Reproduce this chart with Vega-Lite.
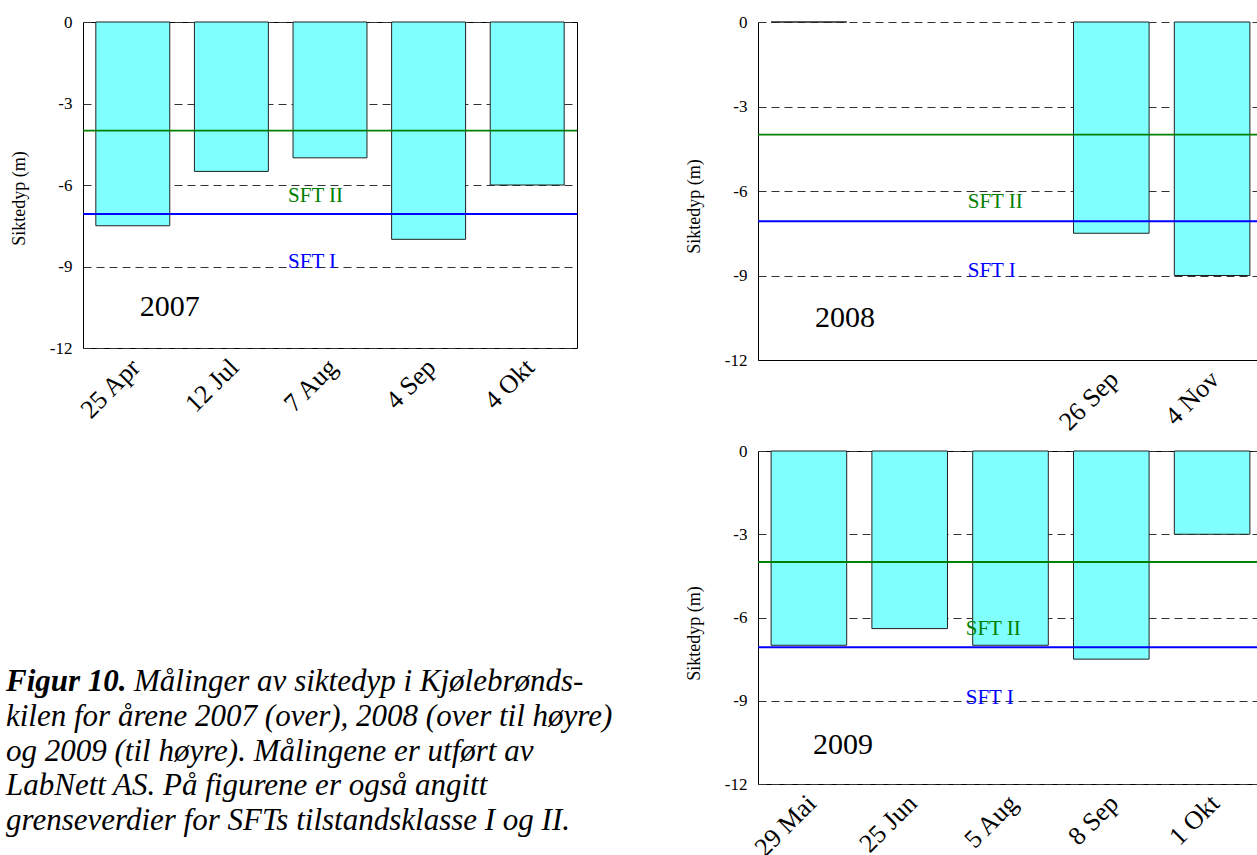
{
  "$schema": "https://vega.github.io/schema/vega-lite/v6.json",
  "background": "white",
  "padding": {"left": 6, "top": 12, "right": 0, "bottom": 0},
  "config": {
    "font": "Liberation Serif",
    "view": {"stroke": "#000", "strokeWidth": 1},
    "axis": {"domain": false, "ticks": false, "tickSize": 0, "labelFont": "Liberation Serif", "titleFont": "Liberation Serif", "labelColor": "#000", "titleColor": "#000", "titleFontWeight": "normal", "labelOverlap": false, "labelFlush": false},
    "axisY": {"grid": true, "gridColor": "#333", "gridDash": [8, 5], "gridWidth": 1, "labelFontSize": 17, "titleFontSize": 18, "labelPadding": 11, "minExtent": 34, "maxExtent": 34, "titlePadding": 21, "labelExpr": "toString(datum.value)"},
    "axisX": {"grid": false, "labelFontSize": 26, "labelAngle": -45, "labelAlign": "right", "labelBaseline": "middle", "labelPadding": 15, "labelOffset": 3}
  },
  "datasets": {
    "maalinger": [
      {"aar": 2007, "dato": "25 Apr", "siktedyp": -7.5},
      {"aar": 2007, "dato": "12 Jul", "siktedyp": -5.5},
      {"aar": 2007, "dato": "7 Aug", "siktedyp": -5},
      {"aar": 2007, "dato": "4 Sep", "siktedyp": -8},
      {"aar": 2007, "dato": "4 Okt", "siktedyp": -6},
      {"aar": 2008, "dato": "(tom 1)", "siktedyp": 0},
      {"aar": 2008, "dato": "(tom 2)", "siktedyp": null},
      {"aar": 2008, "dato": "(tom 3)", "siktedyp": null},
      {"aar": 2008, "dato": "26 Sep", "siktedyp": -7.5},
      {"aar": 2008, "dato": "4 Nov", "siktedyp": -9},
      {"aar": 2009, "dato": "29 Mai", "siktedyp": -7},
      {"aar": 2009, "dato": "25 Jun", "siktedyp": -6.4},
      {"aar": 2009, "dato": "5 Aug", "siktedyp": -7},
      {"aar": 2009, "dato": "8 Sep", "siktedyp": -7.5},
      {"aar": 2009, "dato": "1 Okt", "siktedyp": -3}
    ],
    "tekst": [
      {"linje": 1, "del": "fet", "tekst": "Figur 10."},
      {"linje": 1, "del": "forts", "tekst": "Målinger av siktedyp i Kjølebrønds-"},
      {"linje": 2, "del": "kursiv", "tekst": "kilen for årene 2007 (over), 2008 (over til høyre)"},
      {"linje": 3, "del": "kursiv", "tekst": "og 2009 (til høyre). Målingene er utført av"},
      {"linje": 4, "del": "kursiv", "tekst": "LabNett AS. På figurene er også angitt"},
      {"linje": 5, "del": "kursiv", "tekst": "grenseverdier for SFTs tilstandsklasse I og II."}
    ]
  },
  "data": {"name": "maalinger"},
  "columns": 2,
  "align": "each",
  "bounds": "flush",
  "spacing": {"row": 91, "column": 181},
  "concat": [
    {
      "width": 494, "height": 326,
      "layer": [
        {"transform": [{"filter": "datum.aar == 2007"}],
         "mark": {"type": "bar", "fill": "#80ffff", "stroke": "#222", "strokeWidth": 1},
         "encoding": {
           "x": {"field": "dato", "type": "ordinal", "title": null,
                 "scale": {"domain": ["25 Apr", "12 Jul", "7 Aug", "4 Sep", "4 Okt"], "paddingInner": 0.25, "paddingOuter": 0.13}},
           "y": {"field": "siktedyp", "type": "quantitative", "title": "Siktedyp (m)",
                 "scale": {"domain": [-12, 0], "nice": false},
                 "axis": {"values": [0, -3, -6, -9, -12], "titleY": 176}}
         }},
        {"data": {"values": [{}]}, "mark": {"type": "rule", "stroke": "#008000", "strokeWidth": 1.8}, "encoding": {"y": {"datum": -4}}},
        {"data": {"values": [{}]}, "mark": {"type": "rule", "stroke": "#0000ff", "strokeWidth": 2}, "encoding": {"y": {"datum": -7.07}}},
        {"data": {"values": [{}]}, "mark": {"type": "text", "text": "SFT II", "color": "#008000", "fontSize": 21, "align": "left", "baseline": "middle", "dx": -5},
         "encoding": {"x": {"datum": "7 Aug", "bandPosition": 0}, "y": {"datum": -6.4}}},
        {"data": {"values": [{}]}, "mark": {"type": "text", "text": "SFT I", "color": "#0000ff", "fontSize": 21, "align": "left", "baseline": "middle", "dx": -5},
         "encoding": {"x": {"datum": "7 Aug", "bandPosition": 0}, "y": {"datum": -8.85}}},
        {"data": {"values": [{}]}, "mark": {"type": "text", "text": "2007", "color": "#000", "fontSize": 30, "align": "left", "baseline": "middle", "dx": 7},
         "encoding": {"x": {"datum": "25 Apr"}, "y": {"datum": -10.5}}}
      ]
    },
    {
      "width": 505, "height": 338,
      "view": {"stroke": null},
      "layer": [
        {"transform": [{"filter": "datum.aar == 2008"}],
         "mark": {"type": "bar", "fill": "#80ffff", "stroke": "#222", "strokeWidth": 1},
         "encoding": {
           "x": {"field": "dato", "type": "ordinal", "title": null,
                 "scale": {"domain": ["(tom 1)", "(tom 2)", "(tom 3)", "26 Sep", "4 Nov"], "paddingInner": 0.25, "paddingOuter": 0.13},
                 "axis": {"domain": true, "domainColor": "#000", "labelExpr": "indexof(datum.label, '(tom') === 0 ? '' : datum.label"}},
           "y": {"field": "siktedyp", "type": "quantitative", "title": "Siktedyp (m)",
                 "scale": {"domain": [-12, 0], "nice": false},
                 "axis": {"values": [0, -3, -6, -9, -12], "domain": true, "domainColor": "#000", "titleY": 184}}
         }},
        {"data": {"values": [{}]}, "mark": {"type": "rule", "stroke": "#008000", "strokeWidth": 1.8}, "encoding": {"y": {"datum": -4}}},
        {"data": {"values": [{}]}, "mark": {"type": "rule", "stroke": "#0000ff", "strokeWidth": 2}, "encoding": {"y": {"datum": -7.07}}},
        {"data": {"values": [{}]}, "mark": {"type": "text", "text": "SFT II", "color": "#008000", "fontSize": 21, "align": "left", "baseline": "middle", "dx": -5},
         "encoding": {"x": {"datum": "(tom 3)", "bandPosition": 0}, "y": {"datum": -6.4}}},
        {"data": {"values": [{}]}, "mark": {"type": "text", "text": "SFT I", "color": "#0000ff", "fontSize": 21, "align": "left", "baseline": "middle", "dx": -5},
         "encoding": {"x": {"datum": "(tom 3)", "bandPosition": 0}, "y": {"datum": -8.85}}},
        {"data": {"values": [{}]}, "mark": {"type": "text", "text": "2008", "color": "#000", "fontSize": 30, "align": "left", "baseline": "middle", "dx": 6},
         "encoding": {"x": {"datum": "(tom 1)"}, "y": {"datum": -10.5}}}
      ]
    },
    {
      "width": 494, "height": 333,
      "view": {"stroke": null},
      "data": {"name": "tekst"},
      "layer": [
        {"transform": [{"filter": "datum.del == 'fet'"}],
         "mark": {"type": "text", "fontSize": 31, "fontStyle": "italic", "fontWeight": "bold", "align": "left", "baseline": "alphabetic", "color": "#000"},
         "encoding": {
           "x": {"datum": 0, "type": "quantitative", "scale": {"domain": [0, 1], "range": [-77, 494]}, "axis": null},
           "y": {"field": "linje", "type": "quantitative", "scale": {"domain": [1, 5], "range": [240, 379]}, "axis": null},
           "text": {"field": "tekst"}
         }},
        {"transform": [{"filter": "datum.del == 'forts'"}],
         "mark": {"type": "text", "fontSize": 31, "fontStyle": "italic", "align": "left", "baseline": "alphabetic", "color": "#000", "dx": 128},
         "encoding": {
           "x": {"datum": 0, "type": "quantitative"},
           "y": {"field": "linje", "type": "quantitative"},
           "text": {"field": "tekst"}
         }},
        {"transform": [{"filter": "datum.del == 'kursiv'"}],
         "mark": {"type": "text", "fontSize": 31, "fontStyle": "italic", "align": "left", "baseline": "alphabetic", "color": "#000"},
         "encoding": {
           "x": {"datum": 0, "type": "quantitative"},
           "y": {"field": "linje", "type": "quantitative"},
           "text": {"field": "tekst"}
         }}
      ]
    },
    {
      "width": 505, "height": 333,
      "layer": [
        {"transform": [{"filter": "datum.aar == 2009"}],
         "mark": {"type": "bar", "fill": "#80ffff", "stroke": "#222", "strokeWidth": 1},
         "encoding": {
           "x": {"field": "dato", "type": "ordinal", "title": null,
                 "scale": {"domain": ["29 Mai", "25 Jun", "5 Aug", "8 Sep", "1 Okt"], "paddingInner": 0.25, "paddingOuter": 0.13}},
           "y": {"field": "siktedyp", "type": "quantitative", "title": "Siktedyp (m)",
                 "scale": {"domain": [-12, 0], "nice": false},
                 "axis": {"values": [0, -3, -6, -9, -12], "titleY": 182}}
         }},
        {"data": {"values": [{}]}, "mark": {"type": "rule", "stroke": "#008000", "strokeWidth": 1.8}, "encoding": {"y": {"datum": -4}}},
        {"data": {"values": [{}]}, "mark": {"type": "rule", "stroke": "#0000ff", "strokeWidth": 2}, "encoding": {"y": {"datum": -7.07}}},
        {"data": {"values": [{}]}, "mark": {"type": "text", "text": "SFT II", "color": "#008000", "fontSize": 21, "align": "left", "baseline": "middle", "dx": -7},
         "encoding": {"x": {"datum": "5 Aug", "bandPosition": 0}, "y": {"datum": -6.4}}},
        {"data": {"values": [{}]}, "mark": {"type": "text", "text": "SFT I", "color": "#0000ff", "fontSize": 21, "align": "left", "baseline": "middle", "dx": -7},
         "encoding": {"x": {"datum": "5 Aug", "bandPosition": 0}, "y": {"datum": -8.9}}},
        {"data": {"values": [{}]}, "mark": {"type": "text", "text": "2009", "color": "#000", "fontSize": 30, "align": "left", "baseline": "middle", "dx": 4},
         "encoding": {"x": {"datum": "29 Mai"}, "y": {"datum": -10.6}}}
      ]
    }
  ]
}
